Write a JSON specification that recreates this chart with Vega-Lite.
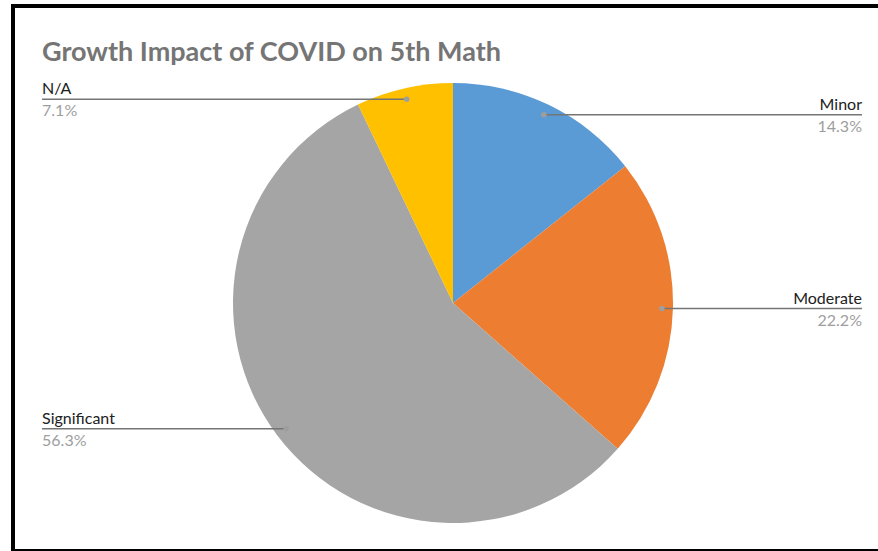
{
  "$schema": "https://vega.github.io/schema/vega-lite/v6.json",
  "width": 877,
  "height": 545,
  "autosize": {"type": "none"},
  "padding": {"left": 13, "top": 6, "right": 0, "bottom": 0},
  "background": "white",
  "config": {"view": {"stroke": "black", "strokeWidth": 4}, "font": "Lato"},
  "title": {
    "text": "Growth Impact of COVID on 5th Math",
    "anchor": "start",
    "frame": "group",
    "orient": "top",
    "offset": 0,
    "baseline": "alphabetic",
    "dx": 29,
    "dy": 82,
    "font": "Lato",
    "fontSize": 27,
    "fontWeight": "bold",
    "color": "#757575"
  },
  "data": {
    "values": [
      {"category": "Minor", "value": 14.3},
      {"category": "Moderate", "value": 22.2},
      {"category": "Significant", "value": 56.3},
      {"category": "N/A", "value": 7.1}
    ]
  },
  "transform": [
    {"window": [{"op": "row_number", "as": "idx"}]},
    {"joinaggregate": [{"op": "sum", "field": "value", "as": "total"}]},
    {"window": [{"op": "sum", "field": "value", "as": "cum"}], "sort": [{"field": "idx"}], "frame": [null, 0]},
    {"calculate": "2*PI*(datum.cum - datum.value/2)/datum.total", "as": "mid"},
    {"calculate": "0.95*sin(datum.mid)", "as": "px"},
    {"calculate": "0.95*cos(datum.mid)", "as": "py"},
    {"calculate": "datum.px > 0 ? 1.859 : -1.868", "as": "lx"},
    {"calculate": "format(datum.value, '.1f') + '%'", "as": "pct"}
  ],
  "layer": [
    {
      "mark": {"type": "arc", "outerRadius": 220},
      "encoding": {
        "x": {"datum": 0, "type": "quantitative", "scale": {"domain": [-2.0, 1.9864], "nice": false, "zero": false}, "axis": null},
        "y": {"datum": 0, "type": "quantitative", "scale": {"domain": [-1.1273, 1.35], "nice": false, "zero": false}, "axis": null},
        "theta": {"field": "value", "type": "quantitative", "stack": true},
        "order": {"field": "idx", "type": "quantitative"},
        "color": {
          "field": "category",
          "type": "nominal",
          "scale": {"domain": ["Minor", "Moderate", "Significant", "N/A"], "range": ["#5b9bd5", "#ed7d31", "#a5a5a5", "#ffc000"]},
          "legend": null
        }
      }
    },
    {
      "mark": {"type": "rule", "color": "#757575", "strokeWidth": 1.5},
      "encoding": {
        "x": {"field": "px", "type": "quantitative", "scale": {"domain": [-2.0, 1.9864], "nice": false, "zero": false}, "axis": null},
        "x2": {"field": "lx"},
        "y": {"field": "py", "type": "quantitative", "scale": {"domain": [-1.1273, 1.35], "nice": false, "zero": false}, "axis": null}
      }
    },
    {
      "mark": {"type": "point", "filled": true, "size": 30, "color": "#9e9e9e", "opacity": 1},
      "encoding": {
        "x": {"field": "px", "type": "quantitative", "axis": null},
        "y": {"field": "py", "type": "quantitative", "axis": null}
      }
    },
    {
      "transform": [{"filter": "datum.px > 0"}],
      "mark": {"type": "text", "align": "right", "baseline": "alphabetic", "dy": -5, "fontSize": 16, "color": "#212121", "font": "Lato"},
      "encoding": {
        "x": {"field": "lx", "type": "quantitative", "axis": null},
        "y": {"field": "py", "type": "quantitative", "axis": null},
        "text": {"field": "category"}
      }
    },
    {
      "transform": [{"filter": "datum.px > 0"}],
      "mark": {"type": "text", "align": "right", "baseline": "alphabetic", "dy": 17, "fontSize": 16, "color": "#9e9e9e", "font": "Lato"},
      "encoding": {
        "x": {"field": "lx", "type": "quantitative", "axis": null},
        "y": {"field": "py", "type": "quantitative", "axis": null},
        "text": {"field": "pct"}
      }
    },
    {
      "transform": [{"filter": "datum.px <= 0"}],
      "mark": {"type": "text", "align": "left", "baseline": "alphabetic", "dy": -5, "fontSize": 16, "color": "#212121", "font": "Lato"},
      "encoding": {
        "x": {"field": "lx", "type": "quantitative", "axis": null},
        "y": {"field": "py", "type": "quantitative", "axis": null},
        "text": {"field": "category"}
      }
    },
    {
      "transform": [{"filter": "datum.px <= 0"}],
      "mark": {"type": "text", "align": "left", "baseline": "alphabetic", "dy": 17, "fontSize": 16, "color": "#9e9e9e", "font": "Lato"},
      "encoding": {
        "x": {"field": "lx", "type": "quantitative", "axis": null},
        "y": {"field": "py", "type": "quantitative", "axis": null},
        "text": {"field": "pct"}
      }
    }
  ]
}
